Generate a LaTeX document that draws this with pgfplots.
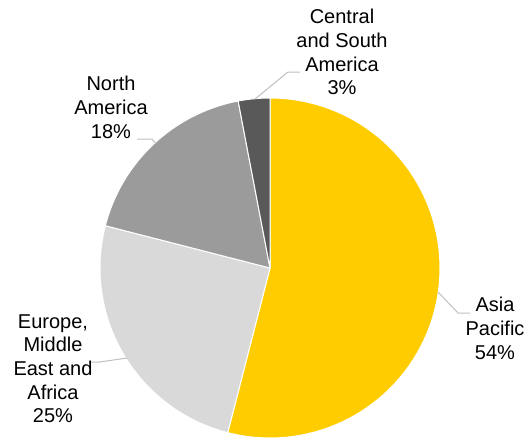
\documentclass[border=0pt]{standalone}
\usepackage{pgfplots}
\pgfplotsset{compat=1.18}
\usepackage{fontspec}
\setmainfont{Liberation Sans}
\definecolor{cAP}{HTML}{FFCC00}
\definecolor{cEM}{HTML}{D9D9D9}
\definecolor{cNA}{HTML}{9B9B9B}
\definecolor{cCS}{HTML}{595959}
\definecolor{cLead}{HTML}{BFBFBF}
% shares (percent)
\def\pAP{54}
\def\pEM{25}
\def\pNA{18}
\def\pCS{3}
\pgfmathsetmacro\aA{90}
\pgfmathsetmacro\aB{\aA-3.6*\pAP}
\pgfmathsetmacro\aC{\aB-3.6*\pEM}
\pgfmathsetmacro\aD{\aC-3.6*\pNA}
\pgfmathsetmacro\aE{\aD-3.6*\pCS}
\def\cx{270}
\def\cy{172}
\def\rr{170}
\begin{document}
\begin{tikzpicture}
\begin{axis}[
  width=396.75pt, height=330pt, scale only axis,
  xmin=0, xmax=529, ymin=0, ymax=440,
  hide axis, clip=false,
]
\addplot[fill=cAP, draw=white, line width=0.75pt, domain=\aB:\aA, samples=80, variable=\t]
  ({\cx+\rr*cos(\t)}, {\cy+\rr*sin(\t)}) -- (axis cs:\cx,\cy) -- cycle;
\addplot[fill=cEM, draw=white, line width=0.75pt, domain=\aC:\aB, samples=50, variable=\t]
  ({\cx+\rr*cos(\t)}, {\cy+\rr*sin(\t)}) -- (axis cs:\cx,\cy) -- cycle;
\addplot[fill=cNA, draw=white, line width=0.75pt, domain=\aD:\aC, samples=40, variable=\t]
  ({\cx+\rr*cos(\t)}, {\cy+\rr*sin(\t)}) -- (axis cs:\cx,\cy) -- cycle;
\addplot[fill=cCS, draw=white, line width=0.75pt, domain=\aE:\aD, samples=10, variable=\t]
  ({\cx+\rr*cos(\t)}, {\cy+\rr*sin(\t)}) -- (axis cs:\cx,\cy) -- cycle;
% leader lines
\addplot[cLead, line width=0.75pt] coordinates {(300,368) (288,368) (255,341)};
\addplot[cLead, line width=0.75pt] coordinates {(137,301) (152,301) (156,296)};
\addplot[cLead, line width=0.75pt] coordinates {(90,78) (100,78) (127,82)};
\addplot[cLead, line width=0.75pt] coordinates {(470,127) (458,127) (438,148)};
% labels
\tikzset{lab/.style={anchor=north, align=center, inner sep=0pt, font=\fontsize{15}{17.8}\selectfont}}
\node[lab] at (axis cs:342,431) {Central\\and South\\America\\3\%};
\node[lab] at (axis cs:111,364) {North\\America\\18\%};
\node[lab] at (axis cs:53,126) {Europe,\\Middle\\East and\\Africa\\25\%};
\node[lab] at (axis cs:495,143) {Asia\\Pacific\\54\%};
\end{axis}
\pgfresetboundingbox
\path[use as bounding box] (current axis.south west) rectangle (current axis.north east);
\end{tikzpicture}
\end{document}
